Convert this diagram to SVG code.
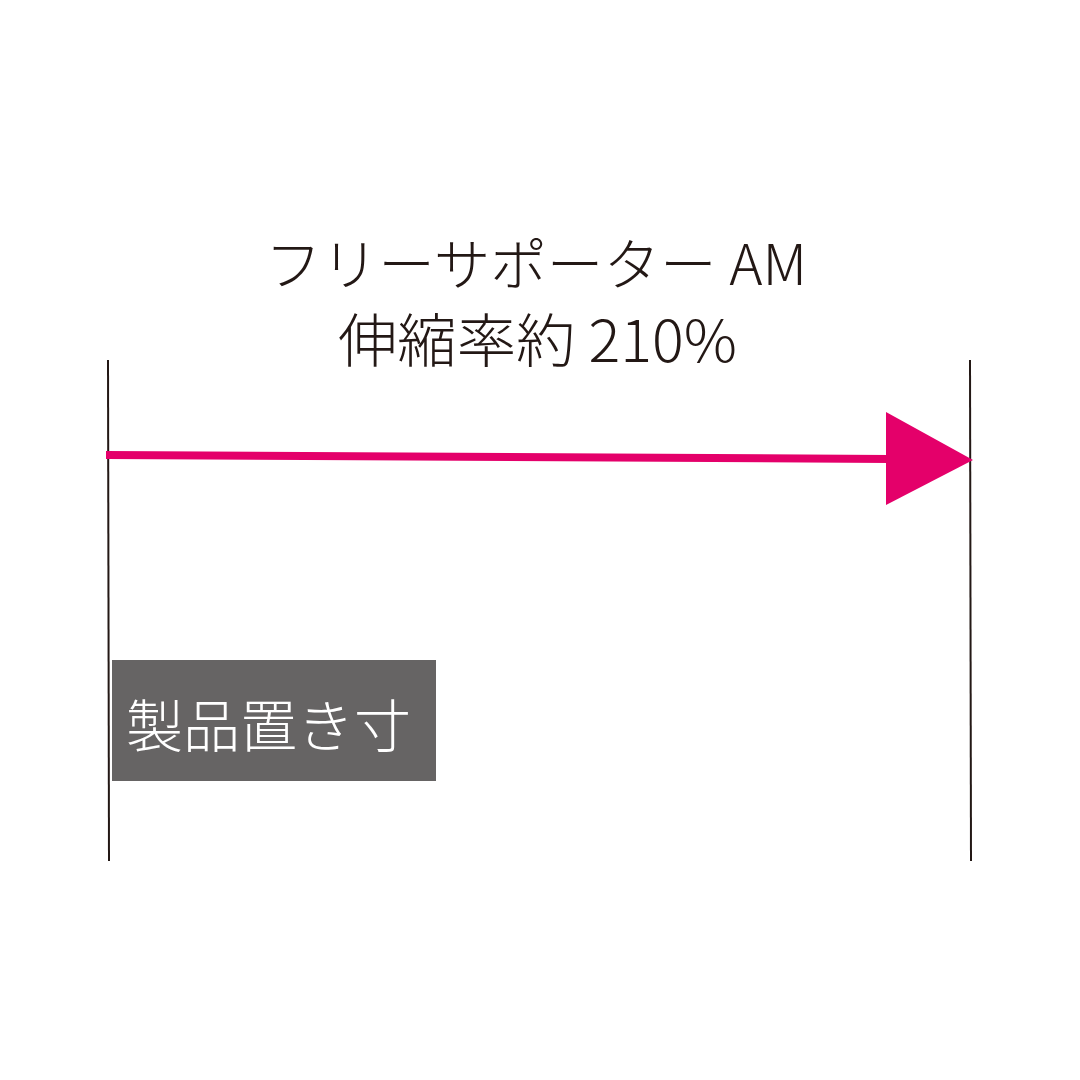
<svg xmlns="http://www.w3.org/2000/svg" width="1080" height="1080" viewBox="0 0 1080 1080">
<style>
.t{font-family:"Noto Sans CJK JP","Noto Sans",sans-serif;fill:#231815;font-weight:300}
.g{stroke:#231815;stroke-width:2;fill:none}
</style>
<rect width="1080" height="1080" fill="#fff"/>
<g id="title">
<text class="t" x="265" y="285" font-size="56" textLength="542" lengthAdjust="spacingAndGlyphs">フリーサポーター AM</text>
<text class="t" x="338" y="362" font-size="58" textLength="399" lengthAdjust="spacingAndGlyphs">伸縮率約 210%</text>
</g>
<g id="guides">
<line class="g" x1="108" y1="360" x2="109" y2="861"/>
<line class="g" x1="970" y1="360" x2="971" y2="861"/>
</g>
<g id="connectors">
<path d="M106 455 L890 459" stroke="#e4006a" stroke-width="8" fill="none"/>
<polygon points="886,412 973,460 886,505" fill="#e4006a"/>
</g>
<g id="label">
<rect x="112" y="660" width="324" height="121" fill="#666464"/>
<text x="126" y="747" font-size="57" fill="#fff" font-family="Noto Sans CJK JP,sans-serif" font-weight="300">製品置き寸</text>
</g>
</svg>
